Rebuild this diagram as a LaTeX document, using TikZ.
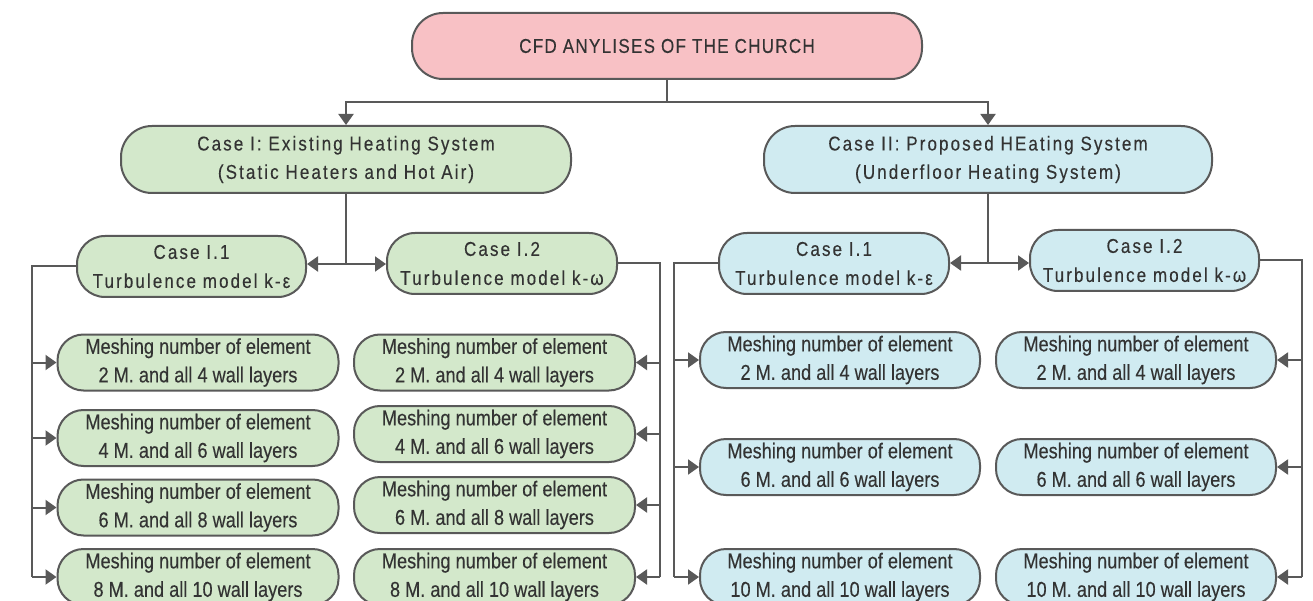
\documentclass[tikz,border=0pt]{standalone}
\usepackage{fontspec}
\setmainfont{Liberation Sans}
\newfontfamily\topfont[FakeStretch=0.85,LetterSpace=6.5,FakeBold=0.25]{Liberation Sans}
\newfontfamily\headfont[FakeStretch=0.85,LetterSpace=10.5,FakeBold=0.25]{Liberation Sans}
\newfontfamily\meshfont[FakeStretch=0.845,FakeBold=0.25]{Liberation Sans}
\usetikzlibrary{arrows.meta}
\definecolor{edge}{HTML}{595959}
\definecolor{txt}{HTML}{333333}
\definecolor{pinkf}{HTML}{F8C1C5}
\definecolor{greenf}{HTML}{D3E8CB}
\definecolor{bluef}{HTML}{D0EBF1}
\begin{document}
\begin{tikzpicture}[x=1pt,y=-1pt,
  box/.style={draw=edge, line width=2pt, text=txt, align=center, inner sep=0pt},
  topbox/.style={box, fill=pinkf, minimum width=510pt, minimum height=66pt, rounded corners=31pt,
    font=\topfont\fontsize{20}{28}\selectfont},
  casebox/.style={box, minimum width=450pt, minimum height=67pt, rounded corners=31pt,
    font=\headfont\fontsize{20}{28.4}\selectfont},
  subbox/.style={box, minimum width=229pt, minimum height=61pt, rounded corners=28pt,
    font=\headfont\fontsize{20}{29}\selectfont},
  meshbox/.style={box, minimum width=281pt, minimum height=56pt, rounded corners=26pt,
    font=\meshfont\fontsize{21.5}{28.5}\selectfont},
  gf/.style={fill=greenf}, bf/.style={fill=bluef},
  conn/.style={draw=edge, line width=2pt},
  arr/.style={conn, -{Triangle[length=11pt,width=15pt]}}
]
\clip (0,0) rectangle (1313,601);
\fill[white] (0,0) rectangle (1313,601);

\node[topbox] (top) at (667,46) {CFD ANYLISES OF THE CHURCH};

\node[casebox,gf] (caseI) at (346,159.5) {Case I: Existing Heating System\\(Static Heaters and Hot Air)};
\node[casebox,bf,minimum width=448pt] (caseII) at (988,159.5) {Case II: Proposed HEating System\\(Underfloor Heating System)};

\node[subbox,gf] (cI1) at (191.5,266.5) {Case I.1\\Turbulence model k-ε};
\node[subbox,gf,minimum width=230pt] (cI2) at (502,263.5) {Case I.2\\Turbulence model k-ω};
\node[subbox,bf,minimum width=230pt] (cII1) at (834,263.5) {Case I.1\\Turbulence model k-ε};
\node[subbox,bf] (cII2) at (1144.5,260.5) {Case I.2\\Turbulence model k-ω};

% meshes, case I.1
\node[meshbox,gf] (a1) at (198,362.5) {Meshing number of element\\2 M. and all 4 wall layers};
\node[meshbox,gf] (a2) at (198,438) {Meshing number of element\\4 M. and all 6 wall layers};
\node[meshbox,gf] (a3) at (198,507.5) {Meshing number of element\\6 M. and all 8 wall layers};
\node[meshbox,gf] (a4) at (198,577) {Meshing number of element\\8 M. and all 10 wall layers};
% meshes, case I.2
\node[meshbox,gf] (b1) at (494.5,362.5) {Meshing number of element\\2 M. and all 4 wall layers};
\node[meshbox,gf] (b2) at (494.5,434) {Meshing number of element\\4 M. and all 6 wall layers};
\node[meshbox,gf] (b3) at (494.5,505) {Meshing number of element\\6 M. and all 8 wall layers};
\node[meshbox,gf] (b4) at (494.5,577) {Meshing number of element\\8 M. and all 10 wall layers};
% meshes, case II.1
\node[meshbox,bf,minimum width=280pt] (c1) at (840,360) {Meshing number of element\\2 M. and all 4 wall layers};
\node[meshbox,bf,minimum width=280pt] (c2) at (840,467) {Meshing number of element\\6 M. and all 6 wall layers};
\node[meshbox,bf,minimum width=280pt] (c3) at (840,577) {Meshing number of element\\10 M. and all 10 wall layers};
% meshes, case II.2
\node[meshbox,bf,minimum width=280pt] (d1) at (1136,360) {Meshing number of element\\2 M. and all 4 wall layers};
\node[meshbox,bf,minimum width=280pt] (d2) at (1136,467) {Meshing number of element\\6 M. and all 6 wall layers};
\node[meshbox,bf,minimum width=280pt] (d3) at (1136,577) {Meshing number of element\\10 M. and all 10 wall layers};

% top connectors
\coordinate (j0) at (667,102);
\draw[conn] (top.south) -- (j0);
\draw[arr] (j0) -| (caseI.north);
\draw[arr] (j0) -| (caseII.north);

% case I split
\coordinate (j1) at (346,264);
\draw[conn] (caseI.south) -- (j1);
\draw[arr] (j1) -- (j1 -| cI1.east);
\draw[arr] (j1) -- (j1 -| cI2.west);
% case II split
\coordinate (j2) at (988,263);
\draw[conn] (caseII.south) -- (j2);
\draw[arr] (j2) -- (j2 -| cII1.east);
\draw[arr] (j2) -- (j2 -| cII2.west);

% trunks
\coordinate (tA) at (32,577);
\coordinate (tB) at (660,577);
\coordinate (tC) at (674,577);
\coordinate (tD) at (1302,577);
\draw[conn] (cI1.west) -| (tA);
\draw[conn] (cI2.east) -| (tB);
\draw[conn] (cII1.west) -| (tC);
\draw[conn] (cII2.east) -| (tD);

\foreach \n in {a1,a2,a3,a4} \draw[arr] (tA |- \n.west) -- (\n.west);
\foreach \n in {b1,b2,b3,b4} \draw[arr] (tB |- \n.east) -- (\n.east);
\foreach \n in {c1,c2,c3} \draw[arr] (tC |- \n.west) -- (\n.west);
\foreach \n in {d1,d2,d3} \draw[arr] (tD |- \n.east) -- (\n.east);
\end{tikzpicture}
\end{document}
